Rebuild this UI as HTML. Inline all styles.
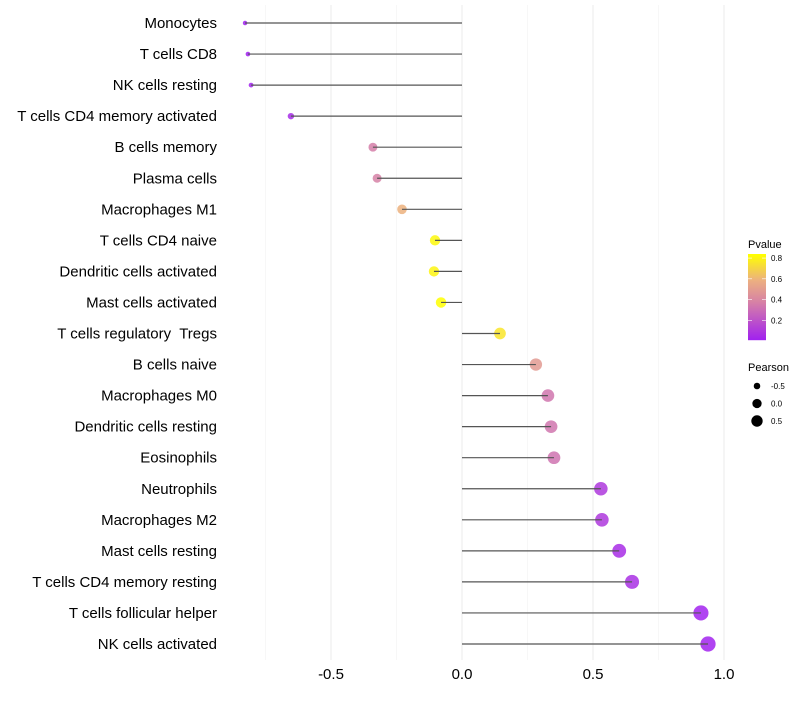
<!DOCTYPE html>
<html><head><meta charset="utf-8"><style>
body{margin:0;background:#fff;font-family:"Liberation Sans",sans-serif}
svg text{font-family:"Liberation Sans",sans-serif;white-space:pre}
</style></head><body>
<svg id="c" width="800" height="700"></svg>
<script>
const categories=["Monocytes","T cells CD8","NK cells resting","T cells CD4 memory activated","B cells memory","Plasma cells","Macrophages M1","T cells CD4 naive","Dendritic cells activated","Mast cells activated","T cells regulatory  Tregs","B cells naive","Macrophages M0","Dendritic cells resting","Eosinophils","Neutrophils","Macrophages M2","Mast cells resting","T cells CD4 memory resting","T cells follicular helper","NK cells activated"];
const pearson=[-0.828,-0.817,-0.805,-0.653,-0.34,-0.324,-0.229,-0.103,-0.107,-0.08,0.145,0.282,0.328,0.34,0.351,0.53,0.534,0.6,0.649,0.912,0.939];
const pvalue=[0.01,0.01,0.02,0.05,0.36,0.37,0.58,0.8,0.79,0.84,0.74,0.48,0.33,0.33,0.32,0.1,0.1,0.06,0.07,0.02,0.02];
const xTicks=[-0.5,0,0.5,1];
const xTickLabels=["-0.5","0.0","0.5","1.0"];
const xMinor=[-0.75,-0.25,0.25,0.75];
const colTicks=[0.2,0.4,0.6,0.8];
const sizeTicks=[-0.5,0,0.5];

const NS="http://www.w3.org/2000/svg";
const svg=document.getElementById('c');
function mk(t,a,p){const e=document.createElementNS(NS,t);for(const k in a)e.setAttribute(k,a[k]);(p||svg).appendChild(e);return e;}
const x=v=>462+v*262;
const y=i=>23+i*31.05;
const r=v=>Math.sqrt(Math.max(2,5+(v+0.83)*30));
const pMin=0.01,pMax=0.82;
const stops=[[0,[160,32,240]],[0.45,[215,130,165]],[0.7,[236,176,128]],[1,[255,255,0]]];
function col(p){let t=Math.min(1,Math.max(0,(p-pMin)/(pMax-pMin)));for(let i=1;i<stops.length;i++){if(t<=stops[i][0]){const a=stops[i-1],b=stops[i];const f=(t-a[0])/(b[0]-a[0]);const c=a[1].map((v,j)=>Math.round(v+(b[1][j]-v)*f));return `rgb(${c})`;}}return 'rgb(255,255,0)';}
const ly=p=>340-(p-pMin)/(pMax-pMin)*84;

xMinor.forEach(v=>{const l=mk('line',{x1:x(v),x2:x(v),y1:5,y2:660,stroke:'#f2f2f2','stroke-width':0.6});
});
xTicks.forEach((v,i)=>{const l=mk('line',{x1:x(v),x2:x(v),y1:5,y2:660,stroke:'#ebebeb','stroke-width':1});

const t=mk('text',{x:x(v),y:679,'text-anchor':'middle','font-size':15,fill:'#000'});t.textContent=xTickLabels[i];
});
categories.forEach((c,i)=>{
const t=mk('text',{x:217,y:y(i)+5,'text-anchor':'end','font-size':15,fill:'#000'});t.textContent=c;

const ci=mk('circle',{cx:x(pearson[i]),cy:y(i),r:r(pearson[i]),fill:col(pvalue[i]),'fill-opacity':0.85});

const l=mk('line',{x1:x(0),x2:x(pearson[i]),y1:y(i),y2:y(i),stroke:'#555','stroke-width':1.2});

});
const lg=mk('g',{});
const tt=mk('text',{x:748,y:248,'font-size':11,fill:'#000'},lg);tt.textContent='Pvalue';
for(let k=0;k<86;k++){const p=pMin+(pMax-pMin)*(1-k/86);mk('rect',{x:748,y:254+k,width:18,height:1.2,fill:col(p)},lg);}
colTicks.forEach(p=>{mk('line',{x1:748,x2:752,y1:ly(p),y2:ly(p),stroke:'#fff','stroke-width':0.6},lg);mk('line',{x1:762,x2:766,y1:ly(p),y2:ly(p),stroke:'#fff','stroke-width':0.6},lg);
const t=mk('text',{x:771,y:ly(p)+3,'font-size':8,fill:'#000'},lg);t.textContent=p.toFixed(1);});
const sg=mk('g',{});
const st=mk('text',{x:748,y:371,'font-size':11,fill:'#000'},sg);st.textContent='Pearson';
sizeTicks.forEach((v,i)=>{mk('circle',{cx:757,cy:386+i*17.5,r:r(v)*0.85,fill:'#000'},sg);
const t=mk('text',{x:771,y:389+i*17.5,'font-size':8,fill:'#000'},sg);t.textContent=v.toFixed(1);});
</script>
</body></html>
